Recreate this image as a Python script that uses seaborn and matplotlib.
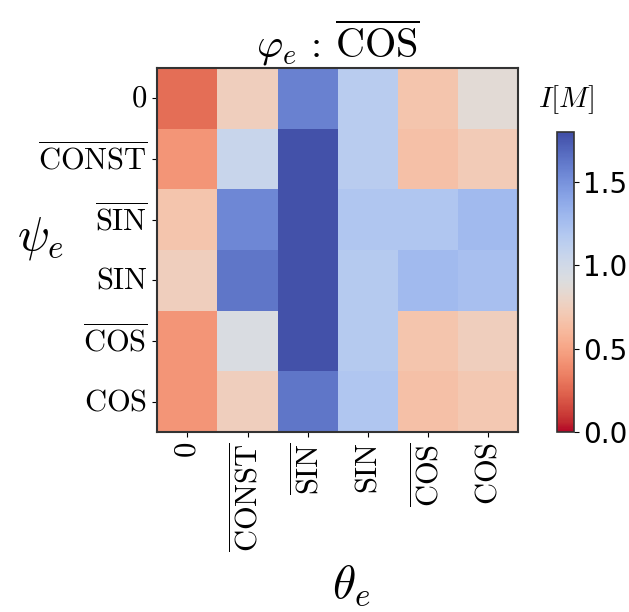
import numpy as np
import pandas as pd
import matplotlib
matplotlib.use("Agg")
import matplotlib.pyplot as plt
from matplotlib.colors import ListedColormap
import seaborn as sns

plt.rcParams['mathtext.fontset'] = 'cm'
plt.rcParams['font.family'] = ['DejaVu Sans']

psi_labels = [r'$0$', r'$\overline{\mathrm{CONST}}$', r'$\overline{\mathrm{SIN}}$',
              r'$\mathrm{SIN}$', r'$\overline{\mathrm{COS}}$', r'$\mathrm{COS}$']
theta_labels = [r'$0$', r'$\overline{\mathrm{CONST}}$', r'$\overline{\mathrm{SIN}}$',
                r'$\mathrm{SIN}$', r'$\overline{\mathrm{COS}}$', r'$\mathrm{COS}$']

row_0 = [0.28, 0.75, 1.58, 1.15, 0.68, 0.86]
row_const_bar = [0.43, 1.06, 1.78, 1.15, 0.65, 0.72]
row_sin_bar = [0.68, 1.55, 1.78, 1.20, 1.20, 1.28]
row_sin = [0.75, 1.63, 1.78, 1.17, 1.28, 1.25]
row_cos_bar = [0.43, 0.93, 1.78, 1.17, 0.68, 0.75]
row_cos = [0.43, 0.75, 1.63, 1.20, 0.65, 0.70]

data = pd.DataFrame([row_0, row_const_bar, row_sin_bar, row_sin, row_cos_bar, row_cos],
                    index=psi_labels, columns=theta_labels)

# coolwarm_r with a slightly muted blue half, as in the reference
t = np.linspace(0, 1, 256)
base = plt.get_cmap('coolwarm_r')(t)
lum = (0.299 * base[:, 0] + 0.587 * base[:, 1] + 0.114 * base[:, 2])[:, None]
w = (0.24 * np.clip((t - 0.45) / 0.1, 0, 1))[:, None]
muted = base.copy()
muted[:, :3] = base[:, :3] * (1 - w) + lum * w
cmap = ListedColormap(muted)

fig = plt.figure(figsize=(6.29, 6.12), dpi=100)
ax = fig.add_axes([0.25, 0.294, 0.574, 0.595])
cax = fig.add_axes([0.886, 0.294, 0.026, 0.49])

sns.heatmap(data, ax=ax, cbar_ax=cax, cmap=cmap, vmin=0, vmax=1.8,
            square=False, linewidths=0)

for s in ax.spines.values():
    s.set_visible(True)
    s.set_linewidth(1.5)
    s.set_color('#333333')

ax.set_xticklabels(theta_labels, rotation=90, fontsize=22)
ax.set_yticklabels(psi_labels, rotation=0, fontsize=22)
ax.set_xlabel(r'$\theta_e$', fontsize=34, labelpad=8)
ax.xaxis.set_label_coords(0.537, -0.36)
ax.set_ylabel('')
fig.text(0.065, 0.61, r'$\psi_e$', fontsize=34, ha='center', va='center')
ax.set_title(r'$\varphi_e\,:\,\overline{\mathrm{COS}}$', fontsize=29, pad=5)

cbar = ax.collections[0].colorbar
cbar.set_ticks([0.0, 0.5, 1.0, 1.5])
cbar.ax.tick_params(labelsize=20)
cbar.outline.set_visible(True)
cbar.outline.set_linewidth(1.2)
cbar.outline.set_edgecolor('#333333')
cax.set_title(r'$I[M]$', fontsize=21, pad=18)

fig.savefig('out.png', dpi=100)
